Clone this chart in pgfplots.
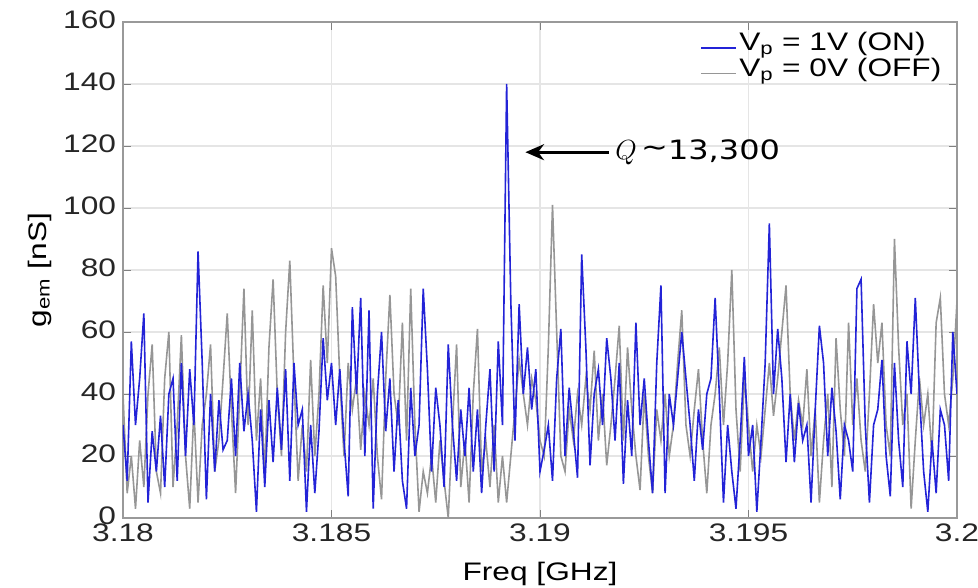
\documentclass[border=0pt]{standalone}
\usepackage{pgfplots}
\pgfplotsset{compat=1.18}
\usepackage{pgfplotstable}
\usepackage{fontspec}
\setmainfont{Liberation Sans}[FakeStretch=1.25]
\newfontfamily\annfont{DejaVu Sans}[FakeStretch=1.2]
\usetikzlibrary{arrows.meta}
\definecolor{onblue}{RGB}{35,35,215}
\definecolor{offgray}{RGB}{150,150,150}

\pgfplotstableread{
i b g
0 30 40
1 12 8
2 57 20
3 30 3
4 45 25
5 66 10
6 5 40
7 28 56
8 15 15
9 33 8
10 10 45
11 40 60
12 45 10
13 12 30
14 50 59
15 20 20
16 48 3
17 30 35
18 86 5
19 50 30
20 6 40
21 40 56
22 15 15
23 38 25
24 22 45
25 25 66
26 45 35
27 20 8
28 50 40
29 28 74
30 40 30
31 25 67
32 2 25
33 35 45
34 10 14
35 38 55
36 18 77
37 42 40
38 22 20
39 48 60
40 12 83
41 50 45
42 30 12
43 35 30
44 2 15
45 30 51
46 8 20
47 28 40
48 58 75
49 38 50
50 50 87
51 30 78
52 48 45
53 25 20
54 7 50
55 68 35
56 40 45
57 71 22
58 20 40
59 67 30
60 3 45
61 40 20
62 60 6
63 28 45
64 45 72
65 15 40
66 38 30
67 12 63
68 3 25
69 42 74
70 20 30
71 30 2
72 74 15
73 48 8
74 15 20
75 42 5
76 30 25
77 10 12
78 56 0
79 30 30
80 12 56
81 35 10
82 20 25
83 42 5
84 15 40
85 35 61
86 8 15
87 30 25
88 48 10
89 15 30
90 57 5
91 30 20
92 140 5
93 70 20
94 25 35
95 69 51
96 40 40
97 55 30
98 35 45
99 48 38
100 15 25
101 22 20
102 30 55
103 12 101
104 45 60
105 61 20
106 20 15
107 42 35
108 28 25
109 13 40
110 85 30
111 55 45
112 17 35
113 40 54
114 48 25
115 30 40
116 58 17
117 45 30
118 25 45
119 50 62
120 11 25
121 38 55
122 20 35
123 63 20
124 30 9
125 45 40
126 25 20
127 8 8
128 50 35
129 75 25
130 8 40
131 40 20
132 30 30
133 45 50
134 60 67
135 45 30
136 30 20
137 12 35
138 35 48
139 22 25
140 40 8
141 45 30
142 71 40
143 40 55
144 5 30
145 30 50
146 15 80
147 3 35
148 25 15
149 52 45
150 20 30
151 30 15
152 2 30
153 25 20
154 50 35
155 95 50
156 40 33
157 61 45
158 45 60
159 18 75
160 40 40
161 18 25
162 37 38
163 25 30
164 30 48
165 5 20
166 35 35
167 62 5
168 50 25
169 20 40
170 42 10
171 28 58
172 6 35
173 30 20
174 25 63
175 15 30
176 74 45
177 77 25
178 30 15
179 5 40
180 30 69
181 35 50
182 51 63
183 20 30
184 7 20
185 50 90
186 25 55
187 10 30
188 57 40
189 40 3
190 71 25
191 40 45
192 15 30
193 2 40
194 25 20
195 8 63
196 35 71
197 30 40
198 12 30
199 60 45
200 40 70
}\datatable

\begin{document}
\begin{tikzpicture}
\useasboundingbox (-92.25pt,-52.5pt) rectangle (641.25pt,388.5pt);
\begin{axis}[
  scale only axis,
  width=625.5pt, height=372pt,
  xmin=3.18, xmax=3.2, ymin=0, ymax=160,
  xtick={3.18,3.185,3.19,3.195,3.2},
  xticklabels={3.18,3.185,3.19,3.195,3.2},
  ytick={0,20,...,160},
  /pgf/number format/assume math mode=true,
  tick label style={font=\fontsize{19}{22}\selectfont, text=black!85, inner sep=1pt},
  xticklabel style={yshift=-3pt},
  yticklabel style={xshift=-4pt, yshift=1.5pt},
  tick align=inside,
  major tick length=6pt,
  every tick/.style={gray},
  axis line style={gray!80, line width=1pt},
  grid=major,
  major grid style={gray!20, line width=0.8pt},
  xlabel={Freq [GHz]},
  ylabel={g\textsubscript{em} [nS]},
  every axis x label/.style={at={(axis description cs:0.5,-0.112)}, anchor=center, font=\fontsize{19}{22}\selectfont},
  every axis y label/.style={at={(axis description cs:-0.1,0.5)}, rotate=90, anchor=center, font=\fontsize{19}{22}\selectfont},
  legend style={draw=none, fill=none, at={(0.988,0.99)}, anchor=north east,
    font=\fontsize{19}{22}\selectfont, row sep=0pt, inner sep=2pt},
  legend cell align=left,
  legend image code/.code={\draw[#1, line width=0.9pt] (0pt,-4pt) -- (26pt,-4pt);},
  reverse legend,
  clip=true,
]
\addplot[offgray, line width=1.2pt] table[x expr={3.18+0.0001*\thisrow{i}}, y=g] {\datatable};
\addlegendentry{V\textsubscript{p} = 0V (OFF)}
\addplot[onblue, line width=1.2pt] table[x expr={3.18+0.0001*\thisrow{i}}, y=b] {\datatable};
\addlegendentry{V\textsubscript{p} = 1V (ON)}
\draw[-{Stealth[length=14pt,width=12pt]}, line width=2.2pt, black] (axis cs:3.19165,118) -- (axis cs:3.18965,118);
\node[anchor=west, font=\annfont\fontsize{20}{24}\selectfont, inner sep=0pt] at (axis cs:3.1918,118) {$Q$\,\raisebox{0.1em}{\textasciitilde}13,300};
\end{axis}
\end{tikzpicture}
\end{document}
